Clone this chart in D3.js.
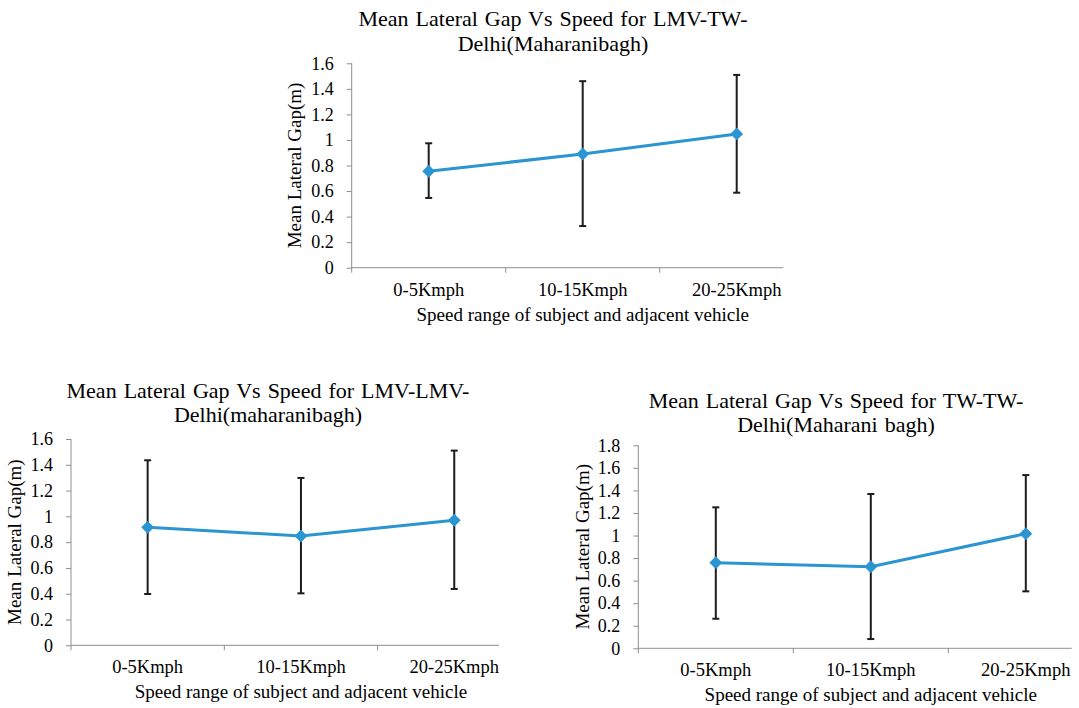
<!DOCTYPE html>
<html>
<head>
<meta charset="utf-8">
<script src="https://cdn.jsdelivr.net/npm/d3@7"></script>
<style>
html,body{margin:0;padding:0;background:#fff;}
svg{display:block;}
</style>
</head>
<body>
<svg id="chart" width="1079" height="708"></svg>
<script>
// ---- data ----
const categories = ["0-5Kmph", "10-15Kmph", "20-25Kmph"];

const lmvTwMean  = [0.755, 0.89, 1.047];
const lmvTwUpper = [0.974, 1.46, 1.509];
const lmvTwLower = [0.546, 0.326, 0.587];

const lmvLmvMean  = [0.915, 0.848, 0.97];
const lmvLmvUpper = [1.435, 1.298, 1.51];
const lmvLmvLower = [0.398, 0.403, 0.437];

const twTwMean  = [0.759, 0.723, 1.016];
const twTwUpper = [1.25, 1.368, 1.536];
const twTwLower = [0.262, 0.082, 0.505];

const yTicks16 = [0, 0.2, 0.4, 0.6, 0.8, 1, 1.2, 1.4, 1.6];
const yTicks18 = [0, 0.2, 0.4, 0.6, 0.8, 1, 1.2, 1.4, 1.6, 1.8];

const titleA = ["Mean Lateral Gap Vs Speed for LMV-TW-", "Delhi(Maharanibagh)"];
const titleB = ["Mean Lateral Gap Vs Speed for LMV-LMV-", "Delhi(maharanibagh)"];
const titleC = ["Mean Lateral Gap Vs Speed for TW-TW-", "Delhi(Maharani  bagh)"];
const yTitle = "Mean Lateral Gap(m)";
const xTitle = "Speed range of subject and adjacent vehicle";

// ---- drawing ----
const FONT = "'Liberation Serif', Tinos, 'Times New Roman', Times, 'DejaVu Serif', serif";
const svg = d3.select("#chart").attr("font-family", FONT);
const LINE = "#2B95D1";
const AXIS = "#8E8E8E";
const ERR = "#1c1c1c";
const fmt = d => String(+d.toFixed(1));

function txt(g) {
  return g.append("text").attr("font-family", FONT).attr("fill", "#000");
}

function drawChart(cfg) {
  const g = svg.append("g");
  const x = d3.scaleBand().domain(categories).range([cfg.left, cfg.left + 3 * cfg.band]);
  const y = d3.scaleLinear().domain([0, cfg.yMax]).range([cfg.zero, cfg.top]);
  const cx = c => x(c) + x.bandwidth() / 2;

  // title
  cfg.title.forEach((t, i) => {
    txt(g).attr("x", cfg.titleX).attr("y", cfg.titleY[i])
      .attr("text-anchor", "middle").attr("font-size", 22).attr("word-spacing", 1.5).text(t);
  });

  // y axis
  const yAxis = d3.axisLeft(y).tickValues(cfg.ticks).tickFormat(fmt).tickSize(5).tickPadding(13);
  const ya = g.append("g").attr("transform", `translate(${cfg.left},0)`).call(yAxis)
    .attr("font-family", FONT).attr("font-size", 18);
  ya.select(".domain").remove();
  ya.selectAll(".tick line").attr("stroke", AXIS);
  ya.selectAll(".tick text").attr("fill", "#000");
  g.append("line").attr("x1", cfg.left).attr("x2", cfg.left)
    .attr("y1", y(cfg.yMax)).attr("y2", cfg.zero + 5).attr("stroke", AXIS);

  // x axis
  g.append("line").attr("x1", cfg.left).attr("x2", cfg.left + cfg.axisLen)
    .attr("y1", cfg.zero).attr("y2", cfg.zero).attr("stroke", AXIS);
  categories.slice(1).forEach(c => {
    g.append("line").attr("x1", x(c)).attr("x2", x(c))
      .attr("y1", cfg.zero).attr("y2", cfg.zero + 5).attr("stroke", AXIS);
  });
  categories.forEach(c => {
    txt(g).attr("x", cx(c)).attr("y", cfg.zero + 28)
      .attr("text-anchor", "middle").attr("font-size", 18.5).text(c);
  });

  // axis titles
  txt(g).attr("x", cfg.left + 1.5 * cfg.band).attr("y", cfg.zero + 53)
    .attr("text-anchor", "middle").attr("font-size", 19).text(xTitle);
  txt(g).attr("transform", `translate(${cfg.yTitleX},${(cfg.top + cfg.zero) / 2}) rotate(-90)`)
    .attr("text-anchor", "middle").attr("font-size", 19).text(yTitle);

  // error bars
  categories.forEach((c, i) => {
    const xc = cx(c);
    g.append("line").attr("x1", xc).attr("x2", xc)
      .attr("y1", y(cfg.upper[i])).attr("y2", y(cfg.lower[i])).attr("stroke", ERR).attr("stroke-width", 2);
    [cfg.upper[i], cfg.lower[i]].forEach(v => {
      g.append("line").attr("x1", xc - 3.5).attr("x2", xc + 3.5)
        .attr("y1", y(v)).attr("y2", y(v)).attr("stroke", ERR).attr("stroke-width", 2);
    });
  });

  // line
  const line = d3.line().x((d, i) => cx(categories[i])).y(d => y(d));
  g.append("path").datum(cfg.mean).attr("d", line)
    .attr("fill", "none").attr("stroke", LINE).attr("stroke-width", 3);

  // markers
  const sym = d3.symbol().type(d3.symbolDiamond2).size(105);
  cfg.mean.forEach((v, i) => {
    g.append("path").attr("d", sym).attr("transform", `translate(${cx(categories[i])},${y(v)})`)
      .attr("fill", LINE);
  });
}

drawChart({
  title: titleA, titleX: 553, titleY: [26, 50.7],
  left: 351.7, top: 63.3, zero: 267.7, band: 154, axisLen: 431.6, yMax: 1.6, ticks: yTicks16,
  yTitleX: 301, mean: lmvTwMean, upper: lmvTwUpper, lower: lmvTwLower
});
drawChart({
  title: titleB, titleX: 268, titleY: [397.7, 421.7],
  left: 71, top: 439, zero: 645.3, band: 153.3, axisLen: 428, yMax: 1.6, ticks: yTicks16,
  yTitleX: 21, mean: lmvLmvMean, upper: lmvLmvUpper, lower: lmvLmvLower
});
drawChart({
  title: titleC, titleX: 836, titleY: [407.7, 432.3],
  left: 638.3, top: 445.3, zero: 648.3, band: 155, axisLen: 433.4, yMax: 1.8, ticks: yTicks18,
  yTitleX: 589, mean: twTwMean, upper: twTwUpper, lower: twTwLower
});
</script>
</body>
</html>
